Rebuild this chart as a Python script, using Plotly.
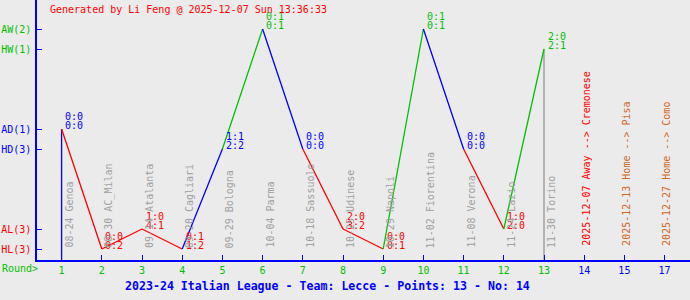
import plotly.graph_objects as go

# ---------------- data ----------------
rounds = [1, 2, 3, 4, 5, 6, 7, 8, 9, 10, 11, 12, 13]
results = ["AD", "HL", "AL", "HL", "HD", "AW", "HD", "AL", "HL", "AW", "HD", "AL", "HW"]
half_time = ["0:0", "0:0", "1:0", "0:1", "1:1", "0:1", "0:0", "2:0", "0:0", "0:1", "0:0", "1:0", "2:0"]
full_time = ["0:0", "0:2", "4:1", "1:2", "2:2", "0:1", "0:0", "3:2", "0:1", "0:1", "0:0", "2:0", "2:1"]
dates = ["08-24", "08-30", "09-14", "09-20", "09-29", "10-04", "10-18", "10-25", "10-29",
         "11-02", "11-08", "11-24", "11-30"]
opponents = ["Genoa", "AC_Milan", "Atalanta", "Cagliari", "Bologna", "Parma", "Sassuolo",
             "Udinese", "Napoli", "Fiorentina", "Verona", "Lazio", "Torino"]

future_pos = [14, 15, 16]
future_text = ["2025-12-07 Away --> Cremonese", "2025-12-13 Home --> Pisa", "2025-12-27 Home --> Como"]
future_kind = ["Away", "Home", "Home"]

x_tickvals = list(range(1, 17))
x_ticktext = [str(i) for i in range(1, 16)] + ["17"]

level_names = ["HL", "AL", "HD", "AD", "HW", "AW"]
level_values = [0, 1, 5, 6, 10, 11]
level_counts = [3, 3, 3, 1, 1, 2]

title_text = "2023-24 Italian League - Team: Lecce - Points: 13 - No: 14"
generated_text = "Generated by Li Feng @ 2025-12-07 Sun 13:36:33"

# ---------------- styles ----------------
GREEN = "#00c000"
BLUE = "#0000ff"
RED = "#ff0000"
GRAY = "#a0a0a0"
BROWN = "#d2691e"
BG = "#ebebeb"
FONT = "DejaVu Sans Mono"

def res_color(r):
    return {"W": GREEN, "D": BLUE, "L": RED}[r[1]]

level_map = dict(zip(level_names, level_values))
ys = [level_map[r] for r in results]
Y0 = -0.55

fig = go.Figure()

# current-round gray marker line
fig.add_trace(go.Scatter(x=[rounds[-1], rounds[-1]], y=[Y0, ys[-1]], mode="lines",
                         line=dict(color=GRAY, width=1.5), hoverinfo="skip", showlegend=False))

prev_x, prev_y = rounds[0], Y0
for x, y, r in zip(rounds, ys, results):
    fig.add_trace(go.Scatter(x=[prev_x, x], y=[prev_y, y], mode="lines",
                             line=dict(color=res_color(r), width=1.3),
                             hoverinfo="skip", showlegend=False))
    prev_x, prev_y = x, y

ann = []
for x, y, r, ht, ft in zip(rounds, ys, results, half_time, full_time):
    c = res_color(r)
    ann.append(dict(x=x, y=y, text=ht, showarrow=False, xanchor="left", yanchor="middle",
                    xshift=1.5, yshift=13, font=dict(family=FONT, size=10, color=c)))
    ann.append(dict(x=x, y=y, text=ft, showarrow=False, xanchor="left", yanchor="middle",
                    xshift=1.5, yshift=3.5, font=dict(family=FONT, size=10, color=c)))

for x, d, o in zip(rounds, dates, opponents):
    ann.append(dict(x=x, y=-0.05, text=f"{d} {o}", showarrow=False, textangle=-90,
                    xanchor="center", yanchor="bottom", xshift=7,
                    font=dict(family=FONT, size=10, color=GRAY)))

for x, t, k in zip(future_pos, future_text, future_kind):
    ann.append(dict(x=x, y=0.05, text=t, showarrow=False, textangle=-90,
                    xanchor="center", yanchor="bottom", xshift=2,
                    font=dict(family=FONT, size=10, color=RED if k == "Away" else BROWN)))

ann.append(dict(xref="paper", yref="paper", x=-37 / 653, y=-8 / 260, text="Round>",
                showarrow=False, xanchor="left", yanchor="middle",
                font=dict(family=FONT, size=10, color=GREEN)))
ann.append(dict(xref="paper", yref="paper", x=11 / 653, y=250 / 260, text=generated_text,
                showarrow=False, xanchor="left", yanchor="middle",
                font=dict(family=FONT, size=10, color=RED)))
ann.append(dict(xref="paper", yref="paper", x=290 / 653, y=-26 / 260, text=f"<b>{title_text}</b>",
                showarrow=False, xanchor="center", yanchor="middle",
                font=dict(family=FONT, size=11.6, color=BLUE)))

def lvl_color(n):
    return {"W": GREEN, "D": BLUE, "L": RED}[n[1]]

y_ticktext = [f"<span style='color:{lvl_color(n)}'>{n}({c})</span>"
              for n, c in zip(level_names, level_counts)]
x_ticktext_c = [f"<span style='color:{GREEN if v <= rounds[-1] else BLUE}'>{t}</span>"
                for v, t in zip(x_tickvals, x_ticktext)]

fig.update_layout(
    width=690, height=300,
    margin=dict(l=37, r=0, t=0, b=40),
    paper_bgcolor=BG, plot_bgcolor=BG,
    annotations=ann,
    showlegend=False,
    xaxis=dict(range=[0.388, 16.632], showgrid=False, zeroline=False,
               showline=True, linecolor=BLUE, linewidth=1.5,
               ticks="inside", ticklen=5, tickcolor=BLUE, tickwidth=1,
               tickvals=x_tickvals, ticktext=x_ticktext_c,
               tickfont=dict(family=FONT, size=10, color=GREEN)),
    yaxis=dict(range=[Y0, 12.45], showgrid=False, zeroline=False,
               showline=True, linecolor=BLUE, linewidth=1.5,
               ticks="inside", ticklen=5, tickcolor=BLUE, tickwidth=1,
               ticklabelstandoff=2,
               tickvals=level_values, ticktext=y_ticktext,
               tickfont=dict(family=FONT, size=10, color=BLUE)),
)

fig.write_html("out.html")
